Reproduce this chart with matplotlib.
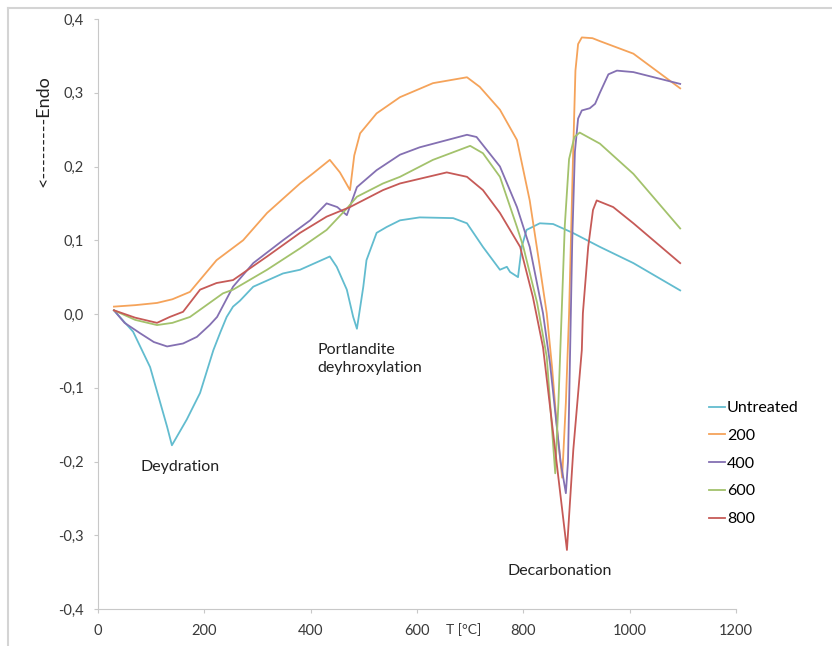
import matplotlib
matplotlib.use("Agg")
import matplotlib.pyplot as plt
from matplotlib.lines import Line2D

plt.rcParams['font.family'] = ['Lato', 'DejaVu Sans']

# DTA curves, temperature [°C] vs signal
t_untreated = [30, 41, 66, 98, 130, 139, 167, 192, 217, 230, 242, 254, 267, 292, 348, 380, 436,
               449, 468, 480, 487, 499, 505, 524, 543, 568, 605, 668, 694, 724, 756, 769, 775,
               790, 797, 806, 831, 856, 893, 944, 1007, 1095]
y_untreated = [0.005, -0.004, -0.024, -0.072, -0.153, -0.178, -0.143, -0.107, -0.049, -0.025,
               -0.004, 0.01, 0.018, 0.037, 0.055, 0.06, 0.078, 0.064, 0.033, -0.004, -0.02,
               0.037, 0.073, 0.11, 0.118, 0.127, 0.131, 0.13, 0.123, 0.091, 0.06, 0.064, 0.057,
               0.05, 0.091, 0.114, 0.123, 0.122, 0.11, 0.091, 0.069, 0.032]

t_200 = [30, 70, 111, 140, 173, 223, 273, 318, 380, 405, 436, 455, 474, 482, 493, 524, 568, 630,
         694, 718, 756, 788, 812, 831, 844, 854, 864, 873, 880, 886, 893, 898, 903, 910, 930,
         944, 1007, 1095]
y_200 = [0.01, 0.012, 0.015, 0.02, 0.03, 0.073, 0.1, 0.137, 0.177, 0.191, 0.209, 0.192, 0.168,
         0.215, 0.245, 0.272, 0.294, 0.313, 0.321, 0.308, 0.277, 0.236, 0.154, 0.064, 0.001,
         -0.072, -0.16, -0.222, -0.12, 0.0, 0.2, 0.33, 0.366, 0.375, 0.374, 0.37, 0.353, 0.306]

t_400 = [30, 50, 79, 105, 130, 160, 186, 210, 224, 254, 292, 348, 399, 430, 450, 468, 487, 524,
         568, 605, 694, 712, 756, 788, 812, 837, 850, 870, 880, 884, 888, 892, 897, 903, 910,
         925, 935, 944, 960, 976, 1007, 1095]
y_400 = [0.005, -0.012, -0.026, -0.038, -0.044, -0.04, -0.031, -0.015, -0.004, 0.037, 0.069,
         0.1, 0.127, 0.15, 0.145, 0.134, 0.172, 0.195, 0.216, 0.226, 0.243, 0.24, 0.2, 0.145,
         0.091, 0.001, -0.066, -0.2, -0.243, -0.2, -0.05, 0.1, 0.22, 0.265, 0.276, 0.279,
         0.285, 0.3, 0.325, 0.33, 0.328, 0.312]

t_600 = [30, 70, 111, 140, 173, 235, 254, 318, 380, 430, 468, 487, 536, 568, 630, 700, 724, 756,
         788, 800, 826, 844, 860, 866, 872, 878, 886, 896, 906, 944, 1007, 1095]
y_600 = [0.005, -0.008, -0.015, -0.012, -0.004, 0.028, 0.033, 0.06, 0.089, 0.114, 0.143, 0.159,
         0.177, 0.186, 0.209, 0.228, 0.218, 0.186, 0.118, 0.091, 0.015, -0.058, -0.216, -0.12,
         0.0, 0.12, 0.21, 0.24, 0.246, 0.231, 0.19, 0.116]

t_800 = [30, 70, 111, 135, 160, 192, 223, 254, 318, 380, 430, 474, 536, 568, 656, 694, 724, 756,
         794, 818, 837, 856, 882, 894, 910, 912, 922, 931, 938, 969, 1007, 1095]
y_800 = [0.005, -0.005, -0.012, -0.004, 0.003, 0.033, 0.042, 0.046, 0.078, 0.11, 0.132, 0.145,
         0.168, 0.177, 0.192, 0.186, 0.168, 0.137, 0.091, 0.023, -0.045, -0.161, -0.32, -0.184,
         -0.049, 0.001, 0.091, 0.141, 0.154, 0.145, 0.123, 0.069]

labels = ['Untreated', '200', '400', '600', '800']
colors = ['#62bccf', '#f5a35a', '#8470b2', '#a3c26c', '#c65a57']
series = [(t_untreated, y_untreated), (t_200, y_200), (t_400, y_400),
          (t_600, y_600), (t_800, y_800)]

fig = plt.figure(figsize=(8.32, 6.46), dpi=100)
ax = fig.add_axes([98/832, 37/646, 638/832, 590/646])

for (t, y), c, lab in zip(series, colors, labels):
    ax.plot(t, y, color=c, lw=1.3, label=lab, solid_joinstyle='round')

ax.set_xlim(0, 1200)
ax.set_ylim(-0.4, 0.4)
ax.set_xticks(range(0, 1201, 200))
ax.set_yticks([-0.4, -0.3, -0.2, -0.1, 0.0, 0.1, 0.2, 0.3, 0.4])
ax.set_yticklabels([('%.1f' % v).replace('.', ',') for v in ax.get_yticks()])

for s in ['top', 'right']:
    ax.spines[s].set_visible(False)
for s in ['left', 'bottom']:
    ax.spines[s].set_color('#c8c8c8')
ax.tick_params(colors='#c8c8c8', labelcolor='#3a3a3a', labelsize=10.5, length=3)
ax.tick_params(axis='y', pad=7.5)
ax.tick_params(axis='x', pad=8)

txt = dict(fontsize=11.5, color='#222222')
ax.text(79, -0.207, 'Deydration', ha='left', va='center', **txt)
ax.text(412, -0.039, 'Portlandite\ndeyhroxylation', ha='left', va='top', linespacing=1.35, **txt)
ax.text(771, -0.349, 'Decarbonation', ha='left', va='center', **txt)

fig.text(464/832, 1 - 630/646, 'T [°C]', ha='center', va='center', fontsize=10, color='#3a3a3a')
fig.text(43/832, 1 - 131/646, '<---------Endo', rotation=90, ha='center', va='center',
         fontsize=13, color='#222222')

ax.legend(loc='upper left', bbox_to_anchor=(709/832, 1 - 401/646), bbox_transform=fig.transFigure,
          frameon=False, fontsize=11.5, handlelength=1.0, handletextpad=0.12, labelspacing=0.85,
          borderpad=0, borderaxespad=0)

# outer frame of the screenshot
fig.add_artist(Line2D([8/832, 1], [1 - 8/646, 1 - 8/646], transform=fig.transFigure,
                      color='#d4d4d4', lw=1.5))
fig.add_artist(Line2D([8/832, 8/832], [0, 1 - 8/646], transform=fig.transFigure,
                      color='#d4d4d4', lw=1.5))

fig.savefig('out.png', dpi=100)
